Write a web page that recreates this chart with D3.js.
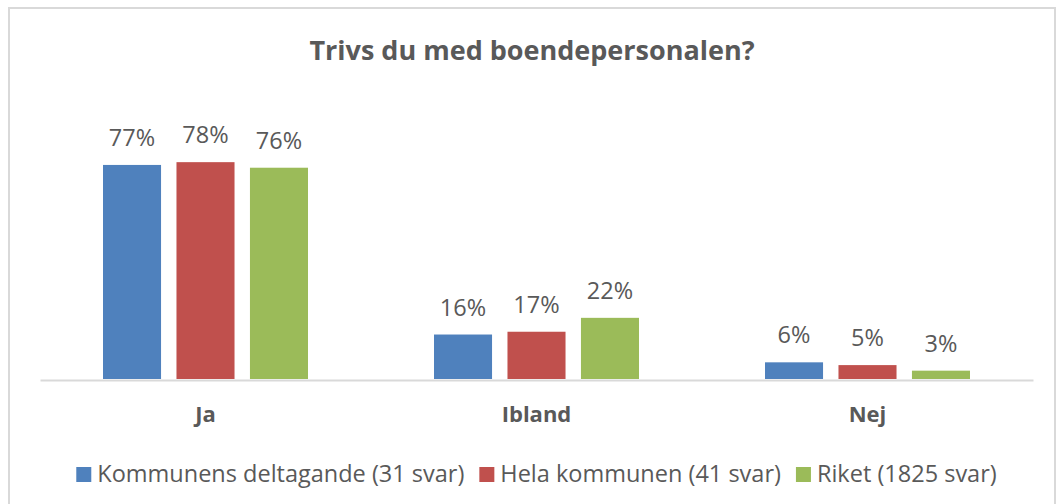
<!DOCTYPE html>
<html>
<head>
<meta charset="utf-8">
<script src="https://cdn.jsdelivr.net/npm/d3@7"></script>
<style>
  body { margin: 0; background: #fff; }
  svg { display: block; font-family: 'Open Sans', sans-serif; }
</style>
</head>
<body>
<svg id="chart" width="1057" height="504"></svg>
<script>
// Data
const title = 'Trivs du med boendepersonalen?';
const categories = ['Ja', 'Ibland', 'Nej'];
const seriesNames = ['Kommunens deltagande (31 svar)', 'Hela kommunen (41 svar)', 'Riket (1825 svar)'];
const kommunensDeltagande = [77, 16, 6];
const helaKommunen = [78, 17, 5];
const riket = [76, 22, 3];
const seriesColors = ['#4F81BD', '#C0504D', '#9BBB59'];

const seriesValues = [kommunensDeltagande, helaKommunen, riket];
const textColor = '#595959';

const svg = d3.select('#chart');
const width = 1057;

// kader rond de grafiek
svg.append('rect')
    .attr('x', 9)
    .attr('y', 8)
    .attr('width', 1046)
    .attr('height', 510)
    .attr('fill', '#fff')
    .attr('stroke', '#D9D9D9')
    .attr('stroke-width', 2);

// titel
svg.append('text')
    .attr('x', 532)
    .attr('y', 60)
    .attr('text-anchor', 'middle')
    .attr('font-size', 27)
    .attr('font-weight', 'bold')
    .attr('fill', textColor)
    .text(title);

// schalen
const baseline = 379;
const x0 = d3.scaleBand().domain(categories).range([40, 1033]);
const x1 = d3.scaleBand().domain(d3.range(seriesNames.length)).range([63, 268]).paddingInner(0.21);
const y = d3.scaleLinear().domain([0, 100]).range([baseline, 101]);

const groups = svg.append('g')
    .selectAll('g')
    .data(categories)
    .join('g')
    .attr('transform', d => `translate(${x0(d)},0)`);

const cells = groups.selectAll('g')
    .data((d, i) => seriesValues.map((vals, s) => ({ s, v: vals[i] })))
    .join('g');

cells.append('rect')
    .attr('x', d => x1(d.s))
    .attr('y', d => y(d.v))
    .attr('width', x1.bandwidth())
    .attr('height', d => baseline - y(d.v))
    .attr('fill', d => seriesColors[d.s]);

cells.append('text')
    .attr('x', d => x1(d.s) + x1.bandwidth() / 2)
    .attr('y', d => y(d.v) - 19)
    .attr('text-anchor', 'middle')
    .attr('font-size', 23.5)
    .attr('fill', textColor)
    .text(d => d.v + '%');

// x-as
const xAxis = svg.append('g')
    .attr('transform', `translate(0,${baseline + 1})`)
    .call(d3.axisBottom(x0).tickSize(0).tickPadding(0));
xAxis.select('.domain').attr('stroke', '#D9D9D9').attr('stroke-width', 2);
xAxis.selectAll('text')
    .attr('dy', 0)
    .attr('y', 42)
    .attr('font-family', "'Open Sans', sans-serif")
    .attr('font-size', 22)
    .attr('font-weight', 'bold')
    .attr('fill', textColor);

// legenda
const legend = svg.append('g');
let lx = 0;
seriesNames.forEach((name, i) => {
    const item = legend.append('g').attr('transform', `translate(${lx},0)`);
    item.append('rect')
        .attr('x', 0)
        .attr('y', -15)
        .attr('width', 15)
        .attr('height', 15)
        .attr('fill', seriesColors[i]);
    const t = item.append('text')
        .attr('x', 21)
        .attr('y', 0)
        .attr('font-size', 23.5)
        .attr('fill', textColor)
        .text(name);
    lx += 21 + t.node().getComputedTextLength() + 15;
});
const legendWidth = lx - 15;
legend.attr('transform', `translate(${(width - legendWidth) / 2 + 8},482)`);
</script>
</body>
</html>
